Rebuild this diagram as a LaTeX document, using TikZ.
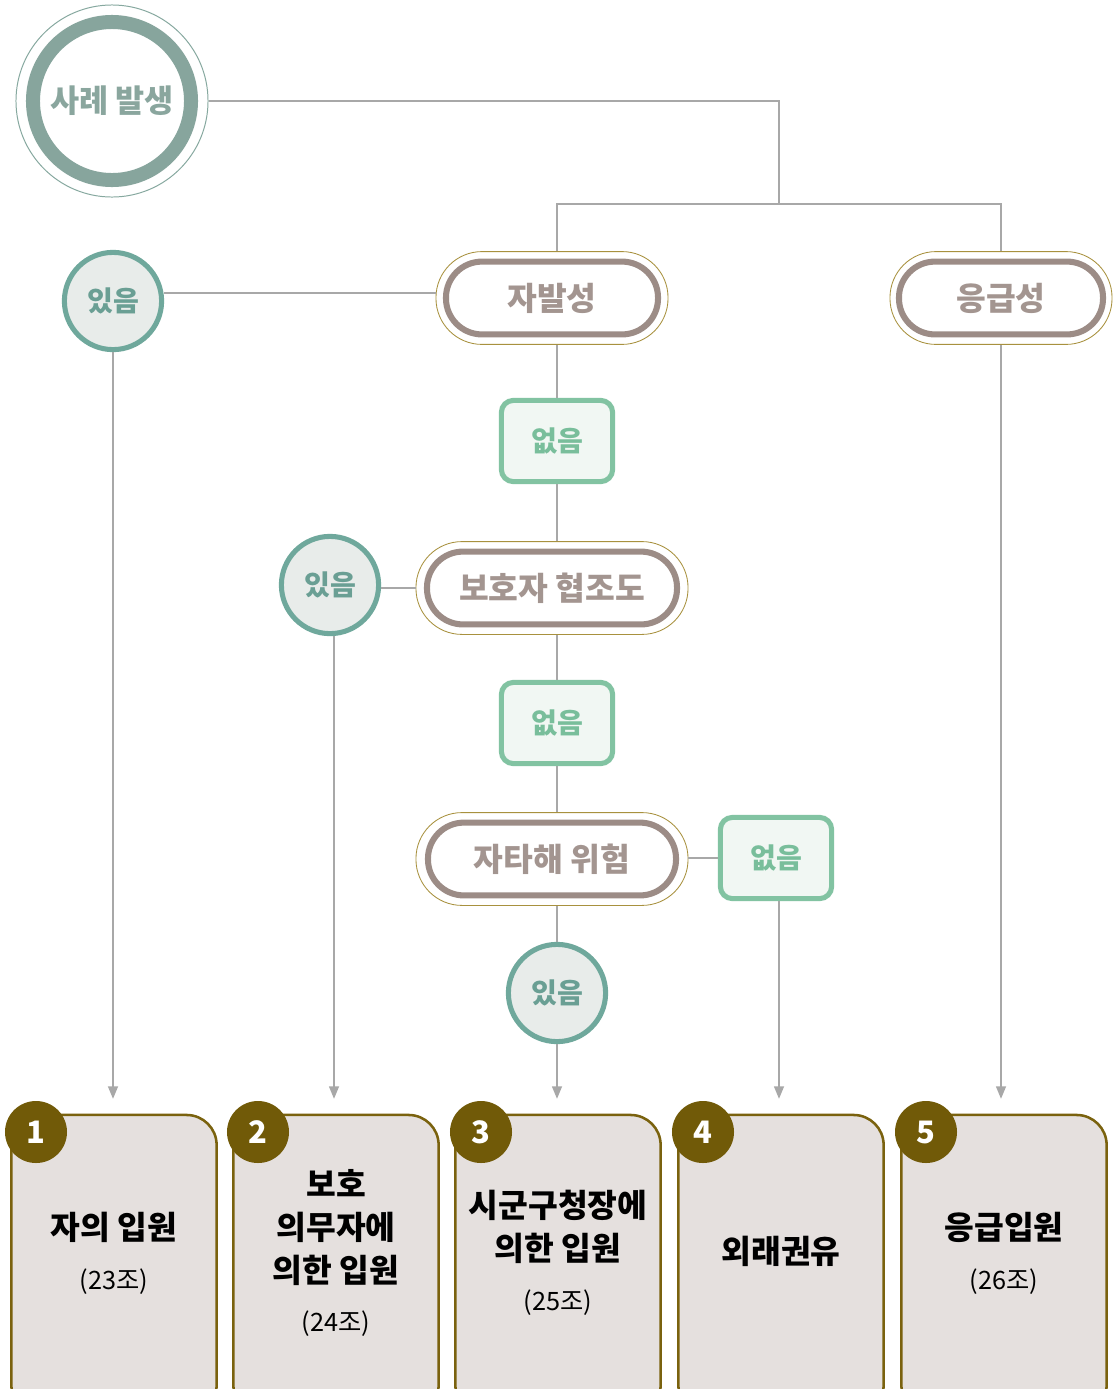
\documentclass[tikz,border=0pt]{standalone}
\usepackage{fontspec}
\setmainfont{Noto Sans CJK KR}
\usetikzlibrary{arrows.meta}
\definecolor{linegray}{HTML}{A8A8A8}
\definecolor{ringteal}{HTML}{87A59D}
\definecolor{thinteal}{HTML}{86A89F}
\definecolor{starttext}{HTML}{8AA69E}
\definecolor{yesteal}{HTML}{6FA89C}
\definecolor{yesfill}{HTML}{E8ECEA}
\definecolor{yestext}{HTML}{6A9F94}
\definecolor{nogreen}{HTML}{82C3A2}
\definecolor{nofill}{HTML}{F1F7F3}
\definecolor{notext}{HTML}{79BE9B}
\definecolor{pillgold}{HTML}{A8913E}
\definecolor{pillbrown}{HTML}{9C8C86}
\definecolor{pilltext}{HTML}{A39590}
\definecolor{boxolive}{HTML}{7A620E}
\definecolor{boxfill}{HTML}{E5E0DE}
\definecolor{badge}{HTML}{715A08}

\begin{document}
\begin{tikzpicture}[x=0.025cm,y=-0.025cm,
 link/.style={draw=linegray,line width=1.4pt},
 arrow/.style={link,-{Triangle[length=9pt,width=7pt]},shorten >=0.37cm},
 start/.style={circle,draw=thinteal,line width=0.7pt,minimum size=4.8cm,inner sep=0pt},
 yes/.style={circle,draw=yesteal,fill=yesfill,line width=3.6pt,minimum size=2.43cm,
             inner sep=0pt,text=yestext,font=\fontsize{20}{22}\selectfont\bfseries},
 no/.style={rectangle,rounded corners=0.3cm,draw=nogreen,fill=nofill,line width=3.6pt,
            minimum width=2.78cm,minimum height=2.03cm,inner sep=0pt,
            text=notext,font=\fontsize{20}{22}\selectfont\bfseries},
 pillframe/.style={rectangle,rounded corners=1.15cm,draw=pillgold,line width=0.6pt,
                   fill=white,minimum height=2.32cm,inner sep=0pt},
 pill/.style={rectangle,rounded corners=0.9cm,draw=pillbrown,line width=4.3pt,
              minimum height=1.82cm,inner sep=0pt,text=pilltext,
              font=\fontsize{23}{25}\selectfont\bfseries},
 result/.style={rectangle,rounded corners=0.75cm,draw=boxolive,fill=boxfill,line width=1.8pt,
                minimum width=5.13cm,minimum height=7.5cm,inner sep=0pt},
 num/.style={circle,fill=badge,minimum size=1.55cm,inner sep=0pt,text=white,
             font=\fontsize{22}{24}\selectfont\bfseries},
 label/.style={align=center,font=\fontsize{23}{30.5}\selectfont\bfseries}
]
\clip (0,0) rectangle (1118,1389);
\fill[white] (0,0) rectangle (1118,1389);

% start
\node[start] (case) at (112,101) {};
\draw[ringteal,line width=0.35cm] (case.center) circle (1.975cm);
\node[text=starttext,font=\fontsize{22.5}{25}\selectfont\bfseries] at (case) {사례 발생};
\coordinate (fork) at (779,204);

% decision pills
\node[pillframe,minimum width=5.8cm] (spontF) at (552,298) {};
\node[pill,minimum width=5.3cm] (spont) at (spontF) {자발성};
\node[pillframe,minimum width=5.55cm] (emergF) at (1001,298) {};
\node[pill,minimum width=5.1cm] (emerg) at (emergF) {응급성};
\node[pillframe,minimum width=6.8cm] (coopF) at (552,588) {};
\node[pill,minimum width=6.25cm] (coop) at (coopF) {보호자 협조도};
\node[pillframe,minimum width=6.8cm] (harmF) at (552,859) {};
\node[pill,minimum width=6.2cm] (harm) at (harmF) {자타해 위험};

% yes / no
\node[yes] (yes1) at (113,301) {있음};
\node[yes] (yes2) at (330,585) {있음};
\node[yes] (yes3) at (557,993) {있음};
\node[no] (no1) at (557,441) {없음};
\node[no] (no2) at (557,723) {없음};
\node[no] (no3) at (776,858) {없음};

% results
\node[result] (vol) at (114,1265) {};
\node[result] (guard) at (336,1265) {};
\node[result] (mayor) at (558,1265) {};
\node[result] (outp) at (781,1265) {};
\node[result] (emer) at (1004,1265) {};
\node[num] (n1) at (36,1132) {1};
\node[num] (n2) at (258,1132) {2};
\node[num] (n3) at (481,1132) {3};
\node[num] (n4) at (703,1132) {4};
\node[num] (n5) at (926,1132) {5};
\node[label] (volT) at (114,1253) {자의 입원\\[5pt]{\fontsize{18}{22}\mdseries\selectfont(23조)}};
\node[label] (guardT) at (336,1253) {보호\\의무자에\\의한 입원\\[5pt]{\fontsize{18}{22}\mdseries\selectfont(24조)}};
\node[label] (mayorT) at (558,1253) {시군구청장에\\의한 입원\\[5pt]{\fontsize{18}{22}\mdseries\selectfont(25조)}};
\node[label] (outpT) at (781,1251) {외래권유};
\node[label] (emerT) at (1004,1253) {응급입원\\[5pt]{\fontsize{18}{22}\mdseries\selectfont(26조)}};

% connectors
\draw[link] (case) -| (fork);
\draw[link] (spontF.north -| no1) |- (fork) -| (emergF.north);
\draw[link] (yes1.east |- 0,293) -- (spontF.west |- 0,293);
\draw[link] (spontF.south -| no1) -- (no1.north);
\draw[link] (no1.south) -- (coopF.north -| no1);
\draw[link] (yes2.east |- coopF) -- (coopF.west);
\draw[link] (coopF.south -| no2) -- (no2.north);
\draw[link] (no2.south) -- (harmF.north -| no2);
\draw[link] (harmF.east |- no3) -- (no3.west);
\draw[link] (harmF.south -| yes3) -- (yes3.north);
\draw[arrow] (yes1.south) -- (yes1.south |- vol.north);
\draw[arrow] (yes2.south -| 334,0) -- (guard.north -| 334,0);
\draw[arrow] (yes3.south) -- (yes3.south |- mayor.north);
\draw[arrow] (no3.south -| 779,0) -- (outp.north -| 779,0);
\draw[arrow] (emergF.south) -- (emergF.south |- emer.north);
\end{tikzpicture}
\end{document}
